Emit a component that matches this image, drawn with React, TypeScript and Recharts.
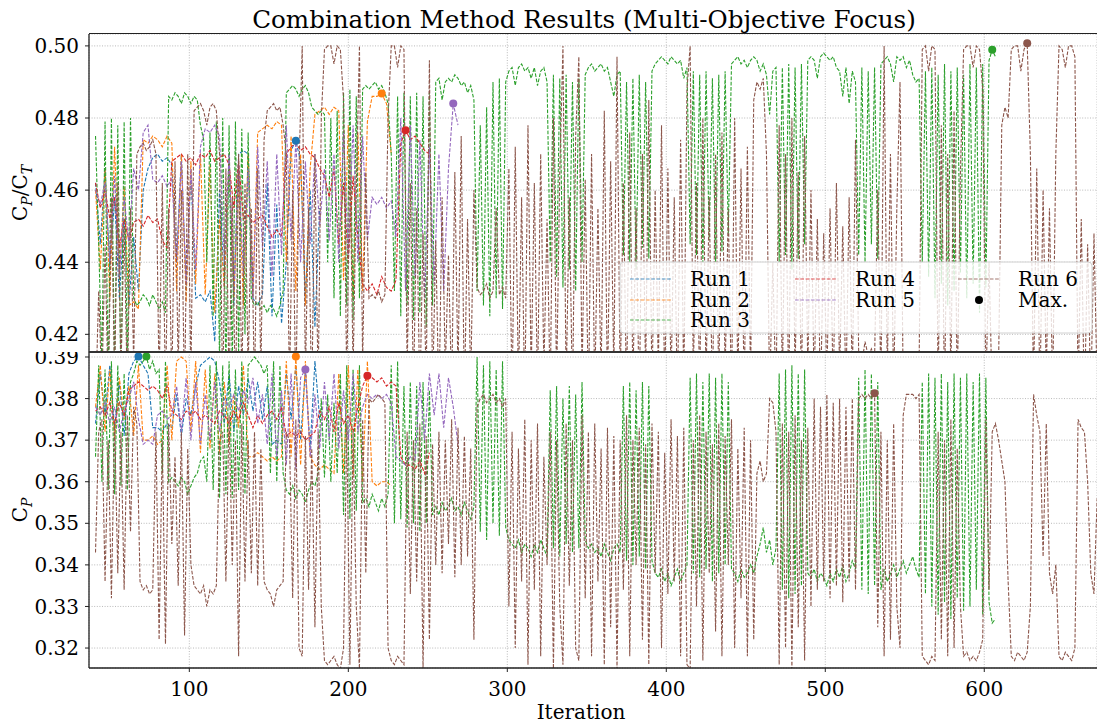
import React from "react";
import {
  ComposedChart,
  Line,
  XAxis,
  YAxis,
  CartesianGrid,
  ReferenceDot,
} from "recharts";

// Runs (matplotlib tab10 colours)
const runNames = ["Run 1", "Run 2", "Run 3", "Run 4", "Run 5", "Run 6"];
const runColors = ["#1f77b4", "#ff7f0e", "#2ca02c", "#d62728", "#9467bd", "#8c564b"];
const runStart = [41, 41, 41, 41, 41, 41];
const runStep = [3, 3, 2, 3, 3, 2];

// values, in thousandths (475 -> 0.475)
const run1CpCt = [
  462, 445, 466, 438, 458, 430, 452, 428, 447, 432, 460, 466, 469, 470, 468, 469, 467, 440, 470, 432,
  465, 430, 431, 429, 432, 418, 460, 433, 466, 428, 470, 471, 470, 430, 428, 431, 462, 425, 456, 423,
  440, 471, 473.7, 468, 430, 460, 422, 455,
];
const run1Cp = [
  374, 386, 376, 388, 373, 384, 371, 386, 389, 390.1, 388, 386, 373, 373, 372, 374, 373, 381, 371, 380,
  376, 383, 388, 389, 390, 389, 384, 374, 386, 372, 383, 376, 385, 377, 384, 375, 383, 369, 370, 369,
  386, 375, 388, 370, 387, 368, 389, 375,
];

const run2CpCt = [
  460, 438, 466, 430, 472, 436, 461, 428, 429, 427, 474, 473, 475, 474, 472, 475, 473, 432, 470, 429,
  468, 434, 470, 431, 467, 426, 452, 433, 469, 430, 466, 428, 470, 431, 476, 477, 478, 477, 479, 478,
  440, 475, 432, 470, 428, 466, 481, 482, 483, 481, 483, 482, 435, 478, 430, 476, 432, 479, 486, 486,
  486.8, 484, 470,
];
const run2Cp = [
  378, 388, 372, 387, 370, 385, 375, 383, 371, 388, 370, 370, 371, 369, 370, 388, 370, 389, 390, 389,
  372, 389, 367, 387, 368, 386, 367, 384, 369, 381, 373, 388, 366, 366, 367, 366, 365, 366, 365, 366,
  389, 366, 390.1, 364, 389, 366, 364, 363, 364, 363, 362, 386, 362, 388, 361, 387, 360, 389, 360, 359,
  360, 360, 359,
];

const run3CpCt = [
  475, 445, 412, 479, 405, 480, 408, 478, 404, 479, 410, 480,
  430, 428, 429, 431, 430, 428, 431, 429, 427, 429, 426,
  486, 485, 487, 486, 484, 487, 486, 484, 486, 485, 478,
  474, 440, 476, 425, 479, 412, 480, 408, 478, 410, 479, 414, 477, 420, 476,
  430, 428, 429, 427, 428, 426, 428, 427, 425, 428, 432,
  487, 488, 489, 488, 486, 488, 489, 487, 483, 482,
  481, 482, 481, 440, 480, 430, 482,
  425, 487, 428, 488, 424, 486, 430, 488,
  489, 488, 489, 490, 488, 489, 487, 484,
  470, 432, 486, 425, 487, 428, 486, 424, 487, 426, 486, 422, 487, 428,
  490, 491, 485, 490, 491, 490, 492, 491, 489, 490, 487, 489, 485,
  432, 478, 428, 483, 425, 490, 430, 491, 427, 490,
  493, 494, 489, 494, 495, 493, 494, 491, 494, 489, 493, 494, 490,
  440, 492, 436, 491, 433, 492, 438, 490, 432, 491, 440, 492,
  494, 495, 493, 494, 495, 493, 494, 490, 486, 492, 493,
  442, 490, 440, 491, 438, 492, 444, 490, 441, 493,
  495, 496, 497, 496, 495, 497, 496, 495, 496, 491, 494,
  445, 493, 442, 492, 440, 493, 446, 491, 440, 492, 443, 493, 448,
  495, 496, 497, 495, 496, 494, 496, 497, 496, 493, 495, 492, 481, 493, 494,
  440, 494, 442, 495, 438, 494, 441, 495, 445,
  496, 497, 496, 491, 497, 498, 497, 496, 497, 494, 493, 486, 494, 484, 493, 490,
  442, 494, 440, 493, 445, 494, 441, 495,
  496, 497, 495, 490, 497, 496, 497, 494, 496, 492, 490, 491,
  440, 493, 436, 494, 430, 492, 434, 495, 428, 493, 432, 494, 437, 492, 430, 495, 434, 494, 426, 495,
  433, 496, 498.9, 497,
];
const run3Cp = [
  366, 388, 360, 387, 358, 389, 357, 388, 359, 386, 358, 384,
  386, 389, 388, 389, 390.1, 387, 389, 386, 387, 362, 389, 360,
  361, 360, 359, 361, 360, 357, 359, 361, 362, 365, 366,
  360, 388, 358, 389, 356, 388, 357, 389, 356, 387, 358, 389, 357, 388,
  389, 390, 389, 388, 386, 388, 362, 389, 360, 388, 362,
  358, 357, 359, 356, 358, 357, 355, 358, 360, 359,
  362, 380, 361, 381, 360, 379, 362,
  386, 352, 388, 351, 387, 353, 388, 355,
  356, 354, 357, 355, 353, 356, 354, 357,
  388, 350, 389, 351, 383, 349, 384, 350, 383, 348, 384, 350, 382, 352,
  354, 352, 355, 353, 354, 356, 353, 354, 352, 355, 353, 351, 354,
  390, 348, 388, 346, 389, 350, 387, 347, 389, 349,
  346, 345, 344, 346, 343, 345, 344, 342, 345, 343, 346, 344, 342,
  382, 344, 383, 342, 380, 345, 383, 343, 381, 344, 384, 346,
  344, 345, 343, 344, 342, 345, 343, 341, 344, 345, 343,
  383, 341, 384, 340, 382, 342, 384, 339, 383, 341,
  338, 337, 339, 336, 338, 335, 337, 339, 336, 338, 340,
  385, 338, 386, 337, 384, 339, 386, 336, 385, 338, 386, 340, 384,
  339, 338, 336, 339, 337, 338, 340, 338, 342, 345, 349, 343, 346, 340, 344,
  386, 334, 387, 332, 388, 333, 386, 335, 387,
  338, 337, 339, 336, 338, 337, 335, 338, 336, 339, 337, 340, 336, 338, 341, 339,
  385, 334, 387, 333, 386, 335, 384, 334,
  339, 336, 338, 340, 337, 339, 341, 338, 340, 342, 339, 337,
  384, 333, 386, 330, 385, 328, 386, 331, 384, 327, 386, 332, 385, 329, 386, 330, 384, 334, 386, 328,
  385, 331, 326, 327,
];

const run4CpCt = [
  462, 455, 460, 452, 458, 444, 452, 446, 451, 452, 450, 453, 451, 452, 446, 444, 468, 469, 470, 468,
  469, 467, 470, 469, 471, 468, 469, 470, 467, 455, 468, 452, 453, 451, 452, 453, 450, 447, 449, 447,
  470, 472, 473, 471, 472, 470, 469, 466, 464, 458, 466, 445, 462, 440, 464, 447, 434, 432, 434, 431,
  436, 433, 432, 435, 473, 476.6, 474, 475, 473, 471, 470,
];
const run4Cp = [
  377, 378, 376, 379, 374, 379, 376, 382, 383, 384, 383, 382, 383, 382, 380, 383, 377, 376, 375, 377,
  376, 377, 375, 376, 375, 374, 377, 376, 374, 377, 375, 379, 376, 373, 376, 374, 376, 377, 375, 378,
  371, 372, 371, 372, 370, 371, 372, 377, 375, 378, 372, 379, 374, 376, 372, 378, 383, 385.5, 385, 384,
  385, 383, 384, 383, 366, 364, 364, 363, 365, 362, 367,
];

const run5CpCt = [
  460, 456, 462, 440, 464, 436, 458, 445, 466, 460, 476, 478, 463, 462, 464, 461, 463, 440, 468, 434,
  466, 438, 472, 477, 476, 478, 475, 440, 470, 432, 468, 436, 466, 430, 472, 444, 468, 436, 470, 442,
  478, 446, 474, 440, 468, 445, 470, 450, 466, 446, 470, 440, 476, 442, 478, 440, 475, 446, 458, 456,
  458, 455, 457, 447, 480, 432, 478, 436, 474, 430, 472, 434, 470, 432, 466, 484, 478,
];
const run5Cp = [
  378, 376, 379, 374, 378, 372, 377, 380, 384, 375, 369, 370, 369, 376, 377, 375, 376, 383, 372, 385,
  370, 384, 369, 381, 370, 384, 372, 380, 378, 381, 377, 382, 379, 385, 374, 381, 369, 386, 366, 382,
  364, 386, 363, 385, 387, 366, 381, 368, 384, 370, 386, 368, 382, 370, 386, 372, 378, 381, 380, 381,
  380, 381, 379, 366, 365, 364, 366, 365, 384, 370, 386, 376, 386, 373, 385, 378, 369,
];

const run6CpCt = [
  400, 432, 405, 445, 402, 458, 408, 462, 410, 450, 404, 455, 412,
  470, 472, 473, 471, 472, 474, 470, 406, 462, 404,
  455, 405, 468, 410, 460, 402, 470, 408,
  482, 483, 484, 482, 478, 483, 484, 482, 470,
  402, 466, 404, 458, 400, 470, 406, 462, 410, 455, 404, 466, 408, 474,
  482, 483, 484, 482, 483, 478, 470,
  405, 460, 402, 466, 500, 408, 455, 400, 470, 404, 480,
  499, 500, 500, 495, 500, 499, 485,
  406, 470, 410, 460, 500, 412, 465,
  430, 431, 430, 432, 429, 431, 480,
  500, 500, 494, 500, 499,
  410, 462, 404, 455, 402, 448, 406, 496, 404, 446, 400, 458, 410, 442, 404, 465, 408, 475, 402, 452,
  406, 460,
  433, 431, 432, 434, 430, 432, 455, 431, 433, 430,
  466, 402, 472, 405, 458, 400, 478, 408, 462, 404, 470, 410, 452, 403, 480, 406, 465, 500, 405, 458,
  402, 475, 497, 408, 463, 400, 470, 404, 455, 407, 482, 403, 468, 409, 497, 405,
  462, 402, 476, 406, 455, 400, 470, 408, 485, 404, 460, 410, 478, 402, 466, 406, 458, 400, 474, 405,
  488, 500, 408, 462, 403, 480, 407, 458, 401, 470, 405, 476, 409, 455, 402, 480, 406, 466, 403, 472,
  408, 485,
  490, 488, 491, 470,
  404, 440, 402,
  478, 406, 470, 402, 480, 408, 465, 404, 475, 410, 460,
  405, 452, 402, 448, 407, 455, 403, 462, 409, 450, 404, 458, 406, 474,
  415, 412, 418, 414, 416, 413,
  460, 405, 500, 408, 470, 404, 455, 490, 406,
  412, 415, 410, 414, 411,
  499, 500, 493, 500, 499,
  405, 478, 402, 470, 408, 482, 404, 465,
  499, 500, 500, 494, 500, 499, 488,
  406, 440, 402, 410, 412, 478, 483, 480,
  499, 500, 500, 493, 499, 500.7,
  470, 405, 466, 403, 460, 408, 455, 404, 470,
  500, 499, 494, 500, 500, 497,
  404, 452, 400, 445, 402, 448, 405,
];
const run6Cp = [
  343, 372, 375, 336, 370, 332, 374, 338, 372, 334, 376, 348, 378,
  374, 336, 334, 335, 333, 334, 372, 322, 370, 321,
  374, 345, 366, 335, 372, 323, 368, 340,
  335, 334, 333, 335, 330, 334, 333, 335, 370,
  372, 336, 376, 340, 370, 318, 374, 336, 370, 338, 372, 335, 368, 336,
  334, 333, 330, 334, 335, 336, 372,
  370, 332, 375, 320, 318, 371, 334, 368, 325, 372, 330,
  317, 316, 317, 318, 316, 315, 320,
  374, 316, 372, 330, 315, 375, 338,
  380, 379, 380, 381, 380, 379, 320,
  317, 316, 318, 317, 316,
  372, 333, 370, 336, 374, 315, 371, 322, 369, 340, 372, 338, 370, 345, 375, 337, 373, 340, 371, 342,
  368, 322,
  378, 380, 381, 379, 380, 381, 379, 380, 378, 380,
  330, 372, 320, 368, 336, 375, 316, 370, 334, 374, 318, 366, 340, 372, 315, 370, 330, 316, 374, 335,
  370, 320, 317, 376, 332, 372, 318, 374, 336, 368, 316, 373, 325, 371, 315, 370,
  334, 376, 318, 370, 340, 373, 322, 369, 316, 374, 338, 372, 320, 367, 333, 375, 336, 371, 318, 373,
  316, 315, 370, 330, 376, 317, 372, 338, 369, 324, 374, 318, 371, 340, 375, 320, 368, 332, 373, 318,
  370, 322,
  362, 365, 360, 362,
  380, 379, 372,
  316, 374, 320, 372, 315, 376, 325, 370, 317, 373, 330,
  380, 334, 378, 336, 381, 332, 379, 335, 380, 331, 378, 336, 380, 334,
  380, 381, 380, 381, 380, 381.3,
  325, 372, 318, 370, 322, 374, 330, 320, 376,
  381, 381, 381, 380, 381,
  318, 317, 316, 318, 317,
  372, 322, 370, 318, 375, 320, 368, 330,
  318, 319, 317, 318, 317, 319, 322,
  375, 334, 372, 374, 370, 365, 360, 336,
  318, 317, 319, 318, 317, 319,
  330, 381, 376, 372, 342, 374, 338, 333, 340,
  318, 317, 319, 318, 317, 320,
  375, 373, 372, 360, 338, 333, 356,
];

// best value of each run ("Max.")
const maxCpCtIter = [167, 221, 605, 236, 266, 627];
const maxCpCtVal = [473.7, 486.8, 498.9, 476.6, 484, 500.7];
const maxCpIter = [68, 167, 73, 212, 173, 531];
const maxCpVal = [390.1, 390.1, 390.1, 385.5, 387, 381.3];

const xTicks = [100, 200, 300, 400, 500, 600];
const cpctTicks = [0.42, 0.44, 0.46, 0.48, 0.5];
const cpTicks = [0.32, 0.33, 0.34, 0.35, 0.36, 0.37, 0.38, 0.39];

const cpctRuns = [run1CpCt, run2CpCt, run3CpCt, run4CpCt, run5CpCt, run6CpCt];
const cpRuns = [run1Cp, run2Cp, run3Cp, run4Cp, run5Cp, run6Cp];

const series = cpctRuns.map((top, r) =>
  top.map((v, i) => ({
    it: runStart[r] + runStep[r] * i,
    cpct: v / 1000,
    cp: cpRuns[r][i] / 1000,
  }))
);

const FONT = "'DejaVu Serif', serif";
const X_DOMAIN: [number, number] = [36.9, 670.9];
const PLOT_LEFT = 89;
const tickStyle = { fontSize: 20, fill: "#000", fontFamily: FONT };

type PanelProps = {
  dataKey: "cpct" | "cp";
  domain: [number, number];
  ticks: number[];
  top: number;
  height: number;
  marginTop: number;
  showX: boolean;
  maxIter: number[];
  maxVal: number[];
};

const Panel: React.FC<PanelProps> = ({
  dataKey, domain, ticks, top, height, marginTop, showX, maxIter, maxVal,
}) => (
  <ComposedChart
    width={1097}
    height={height}
    margin={{ top: marginTop, right: 0, bottom: 0, left: 0 }}
    style={{ position: "absolute", left: 0, top }}
  >
    <CartesianGrid stroke="#a8a8a8" strokeDasharray="1 1.6" strokeWidth={0.8} />
    <XAxis
      type="number"
      dataKey="it"
      domain={X_DOMAIN}
      ticks={xTicks}
      interval={0}
      allowDataOverflow
      hide={!showX}
      height={54}
      tick={tickStyle}
      tickSize={4}
      tickMargin={10}
      axisLine={{ stroke: "#222", strokeWidth: 1.3 }}
      tickLine={{ stroke: "#222" }}
    />
    <YAxis
      type="number"
      domain={domain}
      ticks={ticks}
      interval={0}
      allowDataOverflow
      width={PLOT_LEFT}
      tick={tickStyle}
      tickSize={4}
      tickMargin={6}
      tickFormatter={(v: number) => v.toFixed(2)}
      axisLine={{ stroke: "#222", strokeWidth: 1.3 }}
      tickLine={{ stroke: "#222" }}
    />
    {series.map((d, r) => (
      <Line
        key={runNames[r]}
        data={d}
        dataKey={dataKey}
        stroke={runColors[r]}
        strokeWidth={1.1}
        strokeDasharray="3.7 1.6"
        dot={false}
        activeDot={false}
        isAnimationActive={false}
      />
    ))}
    {maxIter.map((x, r) => (
      <ReferenceDot
        key={"max" + r}
        x={x}
        y={maxVal[r] / 1000}
        r={4}
        fill={runColors[r]}
        stroke="none"
        ifOverflow="visible"
      />
    ))}
  </ComposedChart>
);

// legend: 3 columns, filled column-wise like matplotlib
const legendCols = [[0, 1, 2], [3, 4], [5, -1]];
const legendX = [630, 795, 958];
const legendY = [279, 300, 320];

const Legend = () => (
  <svg width={1097} height={722} style={{ position: "absolute", left: 0, top: 0 }}>
    <rect x={620} y={262} width={472} height={71} rx={4} fill="#fff" fillOpacity={0.8} stroke="#d0d0d0" />
    {legendCols.map((col, c) =>
      col.map((r, k) => (
        <g key={c + "-" + k}>
          {r >= 0 ? (
            <line
              x1={legendX[c]}
              x2={legendX[c] + 42}
              y1={legendY[k]}
              y2={legendY[k]}
              stroke={runColors[r]}
              strokeOpacity={0.8}
              strokeWidth={1.1}
              strokeDasharray="3.7 1.6"
            />
          ) : (
            <circle cx={legendX[c] + 21} cy={legendY[k]} r={4} fill="#000" />
          )}
          <text
            x={legendX[c] + 60}
            y={legendY[k]}
            dominantBaseline="central"
            fontSize={20}
            fontFamily={FONT}
            fill="#000"
          >
            {r >= 0 ? runNames[r] : "Max."}
          </text>
        </g>
      ))
    )}
  </svg>
);

const App = () => (
  <div
    style={{
      position: "relative",
      width: 1097,
      height: 722,
      overflow: "hidden",
      fontFamily: FONT,
      background: "#fff",
    }}
  >
    <style>{`body { margin: 0; }`}</style>

    <Panel
      dataKey="cpct"
      domain={[0.4151, 0.5033]}
      ticks={cpctTicks}
      top={0}
      height={352}
      marginTop={34}
      showX={false}
      maxIter={maxCpCtIter}
      maxVal={maxCpCtVal}
    />
    <Panel
      dataKey="cp"
      domain={[0.3152, 0.3912]}
      ticks={cpTicks}
      top={352}
      height={370}
      marginTop={0}
      showX={true}
      maxIter={maxCpIter}
      maxVal={maxCpVal}
    />

    {/* spines that recharts doesn't draw */}
    <div style={{ position: "absolute", left: PLOT_LEFT, top: 33, width: 1097 - PLOT_LEFT, height: 1.3, background: "#222" }} />
    <div style={{ position: "absolute", left: PLOT_LEFT, top: 351, width: 1097 - PLOT_LEFT, height: 2, background: "#333" }} />

    <Legend />

    <div
      style={{
        position: "absolute", left: 584, top: 8, transform: "translateX(-50%)",
        fontSize: 24.6, lineHeight: "24px", whiteSpace: "nowrap",
      }}
    >
      Combination Method Results (Multi-Objective Focus)
    </div>
    <div
      style={{
        position: "absolute", left: 21, top: 193, transform: "translate(-50%, -50%) rotate(-90deg)",
        fontSize: 20, whiteSpace: "nowrap",
      }}
    >
      C<sub style={{ fontSize: 14, fontStyle: "italic" }}>P</sub>/C
      <sub style={{ fontSize: 14, fontStyle: "italic" }}>T</sub>
    </div>
    <div
      style={{
        position: "absolute", left: 21, top: 510, transform: "translate(-50%, -50%) rotate(-90deg)",
        fontSize: 20, whiteSpace: "nowrap",
      }}
    >
      C<sub style={{ fontSize: 14, fontStyle: "italic" }}>P</sub>
    </div>
    <div
      style={{
        position: "absolute", left: 581, top: 712, transform: "translate(-50%, -50%)",
        fontSize: 20, lineHeight: "20px", whiteSpace: "nowrap",
      }}
    >
      Iteration
    </div>
  </div>
);

export default App;
